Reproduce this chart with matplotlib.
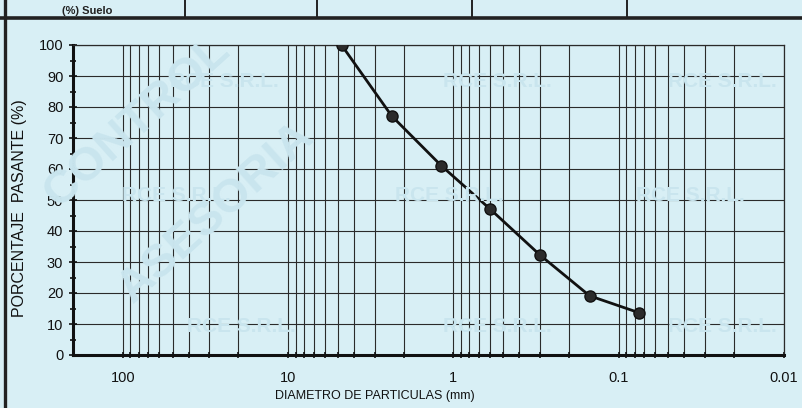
import matplotlib.pyplot as plt
from matplotlib.ticker import FixedLocator, NullFormatter, FuncFormatter

# abertura de tamices (mm) y porcentaje pasante
diametros = [4.75, 2.36, 1.18, 0.60, 0.30, 0.15, 0.075]
pasante = [100.0, 77.1, 61.0, 47.1, 32.3, 19.1, 13.6]

ticks_mayores = [100, 10, 1, 0.1, 0.01]
etiquetas_x = ["100", "10", "1", "0.1", "0.01"]
ticks_y = list(range(0, 101, 10))

fondo = "#d8eff5"
oscuro = "#2a2a2a"
marca = "#c9e5ee"

plt.rcParams['font.family'] = ['Liberation Sans', 'DejaVu Sans']

fig = plt.figure(figsize=(8.03, 4.08), dpi=100, facecolor=fondo)
ax = fig.add_axes([73 / 803, 53 / 408, 711 / 803, 310 / 408])
ax.set_facecolor(fondo)

# marca de agua tenue
for x, y in [(0.28, 0.80), (0.62, 0.80), (0.90, 0.80), (0.22, 0.52),
             (0.56, 0.52), (0.86, 0.52), (0.30, 0.20), (0.62, 0.20), (0.90, 0.20)]:
    fig.text(x, y, "RCE S.R.L.", color=marca, fontsize=15, fontweight="bold",
             ha="center", va="center", zorder=0)
fig.text(0.17, 0.70, "CONTROL", color=marca, fontsize=34, fontweight="bold",
         rotation=42, ha="center", va="center", zorder=0)
fig.text(0.27, 0.48, "ASESORIA", color=marca, fontsize=34, fontweight="bold",
         rotation=42, ha="center", va="center", zorder=0)

# grilla logaritmica desde 100 hasta 0.01
lineas_x = []
for dec in [10, 1, 0.1, 0.01]:
    for k in range(1, 10):
        lineas_x.append(dec * k)
lineas_x.append(100)
for xv in lineas_x:
    ax.axvline(xv, color=oscuro, lw=0.8, zorder=1)
for yv in ticks_y:
    ax.axhline(yv, color=oscuro, lw=0.8, zorder=1)

ax.plot(diametros, pasante, color="#111111", lw=2.0, marker="o", markersize=8,
        markerfacecolor="#2b2b2b", markeredgecolor="#111111", zorder=3)

ax.set_xscale("log")
ax.set_xlim(200, 0.01)
ax.set_ylim(0, 100)

ax.xaxis.set_major_locator(FixedLocator(ticks_mayores))
ax.xaxis.set_major_formatter(FuncFormatter(lambda v, p: etiquetas_x[ticks_mayores.index(v)] if v in ticks_mayores else ""))
ax.xaxis.set_minor_locator(FixedLocator([v for v in lineas_x if v not in ticks_mayores]))
ax.xaxis.set_minor_formatter(NullFormatter())
ax.set_yticks(ticks_y)
ax.set_yticks(range(5, 100, 10), minor=True)

ax.tick_params(axis="both", which="both", direction="inout", color="#111111",
               labelsize=10.5, labelcolor="#111111")
ax.tick_params(axis="x", which="both", length=5, width=1.2, pad=9)
ax.tick_params(axis="y", which="major", length=6, width=1.2, pad=4)
ax.tick_params(axis="y", which="minor", length=4, width=1.2)

for lado in ["left", "bottom"]:
    ax.spines[lado].set_linewidth(2.2)
    ax.spines[lado].set_color("#111111")
for lado in ["right", "top"]:
    ax.spines[lado].set_linewidth(0.9)
    ax.spines[lado].set_color(oscuro)

fig.text(20 / 803, 200 / 408, "PORCENTAJE  PASANTE (%)", rotation=90, fontsize=11.5,
         ha="center", va="center", color="#111111")
fig.text(375 / 803, 12 / 408, "DIAMETRO DE PARTICULAS (mm)", fontsize=9,
         ha="center", va="center", color="#111111")

# marco del documento
fig.add_artist(plt.Line2D([0, 1], [1 - 18 / 408] * 2, color="#222222", lw=2.6))
fig.add_artist(plt.Line2D([5 / 803] * 2, [0, 1], color="#222222", lw=2.4))
for xc in [185, 317, 472, 627]:
    fig.add_artist(plt.Line2D([xc / 803] * 2, [1 - 18 / 408, 1], color="#222222", lw=1.4))
fig.text(62 / 803, 1 - 16 / 408, "(%) Suelo", fontsize=8, ha="left", va="bottom",
         color="#222222", fontweight="bold")

fig.savefig("out.png", dpi=100, facecolor=fondo)
